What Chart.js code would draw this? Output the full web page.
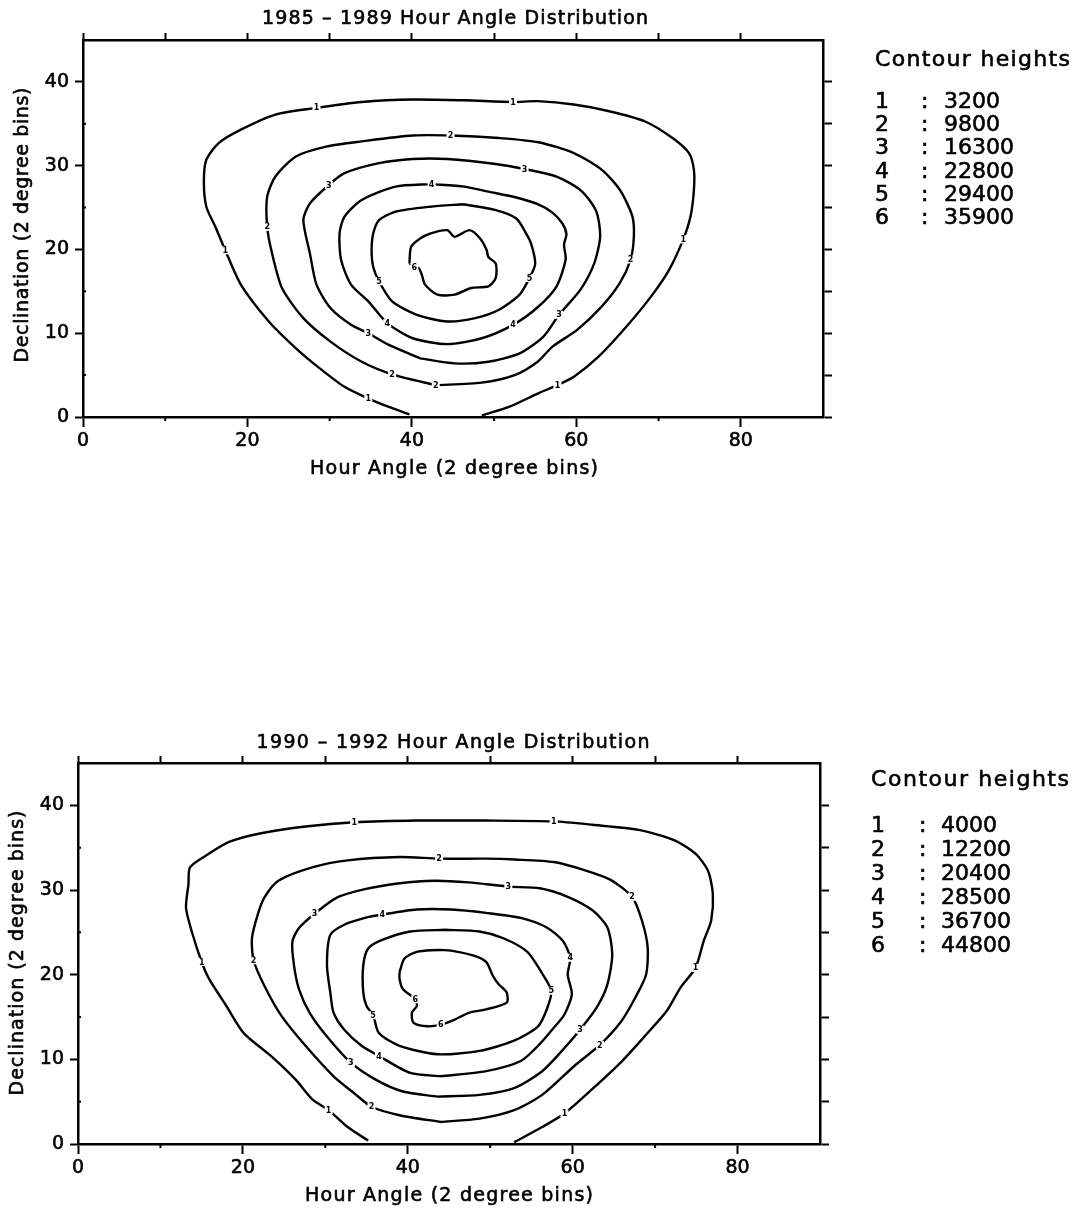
<!DOCTYPE html>
<html>
<head>
<meta charset="utf-8">
<style>
  html, body { margin: 0; padding: 0; background: #fff; }
  body { width: 1089px; height: 1211px; position: relative; overflow: hidden; }
  canvas { position: absolute; left: 0; }
  #chartTop { top: 0; }
  #chartBottom { top: 725px; }
</style>
<script src="https://cdn.jsdelivr.net/npm/chart.js@4.4.1/dist/chart.umd.min.js"></script>
</head>
<body>
<canvas id="chartTop" width="1089" height="480"></canvas>
<canvas id="chartBottom" width="1089" height="486"></canvas>
<script>
// axis ticks (labelled ones and the small unlabelled ones)
const xTicks = [0, 20, 40, 60, 80];
const yTicks = [0, 10, 20, 30, 40];
const xMinor = [10, 30, 50, 70];
const yMinor = [5, 15, 25, 35];

const levels = ['1', '2', '3', '4', '5', '6'];
const heights8589 = [3200, 9800, 16300, 22800, 29400, 35900];
const heights9092 = [4000, 12200, 20400, 28500, 36700, 44800];

// 1985 - 1989 contours, [hour angle bin, declination bin]
const c1_8589 = [[48.5,0.2],[51.8,1.2],[55.3,2.8],[57.7,3.8],[59.7,4.8],[62.7,7.2],[66.1,10.8],[69.1,14.4],[71.3,17.6],[73.0,21.2],[73.9,24.0],[74.3,27.1],[74.3,29.5],[73.7,31.5],[71.7,33.3],[68.3,35.3],[64.0,36.5],[59.7,37.3],[55.3,37.7],[52.3,37.6],[46.4,37.8],[40.1,37.9],[33.9,37.6],[28.4,36.9],[23.4,36.1],[19.2,34.3],[16.5,32.7],[15.0,30.7],[14.7,28.1],[15.0,25.1],[16.1,22.7],[17.3,19.9],[19.2,15.8],[22.6,11.4],[25.9,8.2],[28.8,5.8],[31.8,3.6],[34.7,2.2],[37.2,1.2],[39.7,0.3]];
const c2_8589 = [[42.9,3.8],[48.5,4.1],[52.5,5.0],[55.3,6.6],[57.1,8.4],[60.1,10.4],[63.1,13.2],[65.3,16.0],[66.6,18.8],[67.0,21.6],[66.8,24.0],[65.3,27.1],[63.1,29.5],[59.7,31.5],[55.4,32.8],[50.6,33.3],[44.7,33.6],[40.1,33.6],[33.9,32.9],[29.7,32.3],[25.9,31.1],[23.4,28.7],[22.4,26.3],[22.4,22.7],[23.0,19.5],[24.2,15.4],[26.8,11.8],[30.1,9.0],[33.9,6.6],[37.6,5.1],[42.9,3.8]];
const c3_8589 = [[41.0,7.0],[45.2,6.4],[49.3,6.6],[53.1,7.6],[56.0,9.6],[57.9,12.2],[60.5,15.2],[62.2,18.4],[62.9,21.6],[62.4,24.6],[60.6,27.0],[57.6,28.7],[53.7,29.6],[50.2,30.2],[44.3,30.8],[40.1,30.8],[36.0,30.3],[31.8,29.1],[29.9,27.7],[27.6,25.5],[26.8,23.5],[27.6,19.5],[28.4,15.8],[30.1,13.0],[32.6,11.0],[34.7,10.0],[37.2,8.6],[41.0,7.0]];
const c4_8589 = [[42.4,27.8],[38.0,27.5],[33.9,25.9],[31.8,23.9],[31.2,21.9],[31.4,18.7],[32.6,15.8],[34.7,13.8],[37.0,11.2],[40.1,9.4],[44.3,8.7],[48.5,9.4],[52.3,11.0],[55.3,13.1],[57.6,15.6],[58.7,18.8],[58.5,20.6],[58.8,21.8],[58.3,23.1],[57.1,24.4],[55.3,25.4],[52.7,26.2],[49.3,26.9],[46.4,27.5],[42.4,27.8]];
const c5_8589 = [[46.2,25.4],[42.2,25.1],[38.0,24.5],[36.0,23.5],[35.3,21.9],[35.1,19.9],[35.3,17.9],[36.0,16.2],[37.6,13.8],[40.6,12.2],[44.3,11.4],[47.7,11.8],[50.6,12.8],[53.1,14.6],[54.3,16.6],[55.0,18.3],[54.5,20.7],[53.9,21.9],[52.7,23.7],[50.2,24.7],[46.2,25.4]];
const c6_8589 = [[39.7,18.3],[39.9,20.3],[41.0,21.3],[42.2,21.9],[44.3,22.3],[45.2,21.5],[47.0,22.3],[48.3,21.3],[49.1,19.9],[49.3,19.1],[50.2,18.3],[50.2,16.6],[49.3,15.6],[47.2,15.4],[45.2,14.6],[43.1,14.6],[41.6,15.8],[41.2,17.0],[40.8,17.8],[39.7,18.3]];

// where the level numbers sit on the 1985 - 1989 lines
const tags8589 = [[28.4,36.9,'1'],[52.3,37.6,'1'],[17.3,19.9,'1'],[34.7,2.2,'1'],[73.0,21.2,'1'],[57.7,3.8,'1'],
  [44.7,33.6,'2'],[22.4,22.7,'2'],[37.6,5.1,'2'],[42.9,3.8,'2'],[66.6,18.8,'2'],
  [29.9,27.7,'3'],[53.7,29.6,'3'],[34.7,10.0,'3'],[57.9,12.2,'3'],
  [42.4,27.8,'4'],[37.0,11.2,'4'],[52.3,11.0,'4'],
  [36.0,16.2,'5'],[54.3,16.6,'5'],
  [40.3,17.9,'6']];

// 1990 - 1992 contours
const c1_9092 = [[52.9,0.2],[56.3,2.0],[59.0,3.6],[62.4,6.5],[65.9,9.7],[68.9,12.9],[71.4,15.7],[73.1,18.5],[74.9,20.8],[75.9,24.0],[76.8,26.4],[77.0,29.6],[76.4,32.3],[74.9,34.3],[72.3,35.9],[68.0,37.1],[62.4,37.7],[57.7,38.1],[49.5,38.2],[41.1,38.2],[33.5,38.0],[27.6,37.5],[22.2,36.7],[18.4,35.7],[15.9,34.3],[13.6,32.7],[13.4,30.7],[13.1,27.9],[13.8,25.1],[15.0,21.5],[15.9,19.5],[18.0,16.3],[20.1,13.1],[23.4,10.4],[26.4,7.6],[28.5,5.2],[30.4,4.0],[32.7,2.0],[35.2,0.4]];
const c2_9092 = [[44.0,2.6],[48.7,3.0],[52.9,4.0],[56.3,5.8],[60.3,9.3],[63.3,11.7],[65.9,14.5],[67.6,17.3],[68.9,20.0],[69.1,23.2],[68.4,26.4],[67.2,29.2],[64.6,31.2],[61.6,32.3],[57.7,33.3],[53.0,33.6],[49.5,33.7],[43.8,33.7],[39.0,33.9],[32.7,33.5],[28.5,32.7],[24.3,31.1],[22.6,29.1],[21.8,27.1],[21.1,24.3],[21.3,21.7],[22.6,18.7],[24.7,15.1],[27.6,11.6],[31.0,8.0],[33.5,6.0],[35.6,4.4],[39.0,3.4],[44.0,2.6]];
const c3_9092 = [[43.6,5.6],[48.7,5.8],[52.9,6.6],[56.3,8.6],[58.6,10.9],[60.9,13.5],[62.9,16.1],[64.2,18.8],[64.8,22.4],[64.2,25.6],[62.4,27.6],[59.4,29.2],[56.0,30.2],[52.2,30.4],[47.4,30.9],[43.2,31.1],[39.0,30.8],[34.8,30.1],[31.4,29.1],[28.7,27.2],[26.8,25.5],[26.0,23.9],[26.2,21.1],[26.8,18.3],[28.1,15.5],[30.2,12.7],[33.1,9.6],[36.1,7.6],[39.4,6.2],[43.6,5.6]];
const c4_9092 = [[44.0,8.0],[49.5,8.6],[53.7,9.8],[56.0,11.8],[57.6,13.6],[59.0,15.3],[59.9,17.7],[59.4,20.0],[59.7,22.0],[58.8,24.0],[56.8,25.6],[53.7,26.7],[49.5,27.3],[45.3,27.7],[41.1,27.7],[36.9,27.1],[34.8,26.7],[32.3,25.9],[30.6,24.7],[30.2,21.1],[30.6,17.9],[31.0,15.5],[32.3,13.5],[34.4,11.6],[36.5,10.4],[40.3,8.4],[44.0,8.0]];
const c5_9092 = [[44.5,25.3],[40.3,25.1],[36.9,24.1],[35.2,23.1],[34.6,21.1],[34.6,17.9],[35.0,16.3],[35.8,15.2],[36.5,13.1],[39.0,11.6],[43.6,10.6],[48.7,11.0],[52.9,12.2],[55.8,13.9],[56.9,16.0],[57.4,18.1],[56.2,20.3],[54.5,22.7],[51.6,24.3],[48.7,25.1],[44.5,25.3]];
const c6_9092 = [[39.0,20.3],[39.6,21.9],[41.1,22.7],[44.5,22.9],[47.8,22.3],[49.5,21.5],[50.3,19.9],[51.0,18.9],[52.0,17.9],[52.0,16.7],[49.5,15.9],[47.4,15.5],[45.7,14.7],[44.0,14.1],[42.4,13.9],[40.7,14.3],[40.5,15.5],[41.1,16.3],[40.9,17.1],[39.4,18.3],[39.0,19.5],[39.0,20.3]];

const tags9092 = [[33.5,38.0,'1'],[57.7,38.1,'1'],[15.0,21.5,'1'],[30.4,4.0,'1'],[74.9,20.8,'1'],[59.0,3.6,'1'],
  [43.8,33.7,'2'],[21.3,21.7,'2'],[35.6,4.4,'2'],[67.2,29.2,'2'],[63.3,11.7,'2'],
  [28.7,27.2,'3'],[52.2,30.4,'3'],[33.1,9.6,'3'],[60.9,13.5,'3'],
  [36.9,27.1,'4'],[36.5,10.4,'4'],[59.7,22.0,'4'],
  [35.8,15.2,'5'],[57.4,18.1,'5'],
  [40.9,17.1,'6'],[44.0,14.1,'6']];

Chart.defaults.font.family = 'DejaVu Sans';
Chart.defaults.color = '#000';

const FONT = '"DejaVu Sans", sans-serif';
const clear = 'rgba(0,0,0,0)';

// text with letter spacing stretched to a given width, lightly stroked like the scan
function spaced(ctx, text, x, y, width, size, align) {
  ctx.save();
  ctx.font = size + 'px ' + FONT;
  ctx.letterSpacing = '0px';
  const w0 = ctx.measureText(text).width;
  if (width) {
    ctx.letterSpacing = ((width - w0) / (text.length - 1)) + 'px';
  }
  ctx.textAlign = 'left';
  ctx.textBaseline = 'middle';
  const w = width || w0;
  const left = align === 'center' ? x - w / 2 : x;
  ctx.fillStyle = '#000';
  ctx.strokeStyle = '#000';
  ctx.lineWidth = 0.6;
  ctx.fillText(text, left, y);
  ctx.strokeText(text, left, y);
  ctx.restore();
}

const decor = {
  id: 'decor',
  afterDatasetsDraw(chart, args, o) {
    const { ctx } = chart;
    const { x, y } = chart.scales;
    ctx.save();
    ctx.font = 'bold 8px ' + FONT;
    ctx.textAlign = 'center';
    ctx.textBaseline = 'middle';
    o.tags.forEach(([vx, vy, t]) => {
      const px = x.getPixelForValue(vx), py = y.getPixelForValue(vy);
      ctx.fillStyle = '#fff';
      ctx.fillRect(px - 4, py - 4, 8, 8);
      ctx.fillStyle = '#000';
      ctx.fillText(t, px, py + 0.5);
    });
    ctx.restore();
  },
  afterDraw(chart, args, o) {
    const { ctx, chartArea: a } = chart;
    const { x, y } = chart.scales;
    ctx.save();
    ctx.strokeStyle = '#000';
    ctx.lineWidth = 2;
    ctx.beginPath();
    xMinor.forEach(v => {
      const px = x.getPixelForValue(v);
      ctx.moveTo(px, a.bottom); ctx.lineTo(px, a.bottom + 4);
    });
    yMinor.forEach(v => {
      const py = y.getPixelForValue(v);
      ctx.moveTo(a.left, py); ctx.lineTo(a.left + 3, py);
    });
    ctx.stroke();
    ctx.restore();

    spaced(ctx, o.title, o.titleX, o.titleY, o.titleW, 19, 'center');
    spaced(ctx, 'Hour Angle (2 degree bins)', o.xTitleX, o.xTitleY, 288, 19, 'center');
    ctx.save();
    ctx.translate(o.yTitleX, o.yTitleY);
    ctx.rotate(-Math.PI / 2);
    spaced(ctx, 'Declination (2 degree bins)', 0, 0, o.yTitleW, 19, 'center');
    ctx.restore();

    spaced(ctx, 'Contour heights', o.legX, o.legY, o.legW, 22);
    o.heights.forEach((h, i) => {
      const ry = o.rowY + i * o.rowStep;
      spaced(ctx, levels[i], o.legX, ry, 0, 22);
      spaced(ctx, ':', o.colonX, ry, 0, 22);
      spaced(ctx, String(h), o.valX, ry, 0, 22);
    });
  }
};

function makeChart(id, contours, tags, heights, box, text) {
  const canvas = document.getElementById(id);
  const W = canvas.width, H = canvas.height;
  const lineSet = pts => ({
    data: pts.map(([vx, vy]) => ({ x: vx, y: vy })),
    showLine: true,
    borderColor: '#000',
    borderWidth: 2.4,
    pointRadius: 0,
    tension: 0.25,
    fill: false
  });
  const tickFont = { family: 'DejaVu Sans', size: 19 };
  const border = { display: true, color: '#000', width: 2.5 };
  return new Chart(canvas, {
    type: 'scatter',
    data: { datasets: contours.map(lineSet) },
    options: {
      responsive: false,
      animation: false,
      events: [],
      layout: { padding: 0 },
      plugins: {
        legend: { display: false },
        tooltip: { enabled: false },
        decor: Object.assign({ tags, heights }, text)
      },
      scales: {
        x: {
          type: 'linear', position: 'bottom', min: 0, max: 90,
          ticks: { stepSize: 10, autoSkip: false, maxRotation: 0, padding: 3, font: tickFont,
            textStrokeColor: '#000', textStrokeWidth: 0.6,
            callback: v => xTicks.includes(v) ? String(v) : '' },
          grid: { drawOnChartArea: false, tickLength: 10, tickWidth: 2,
            tickColor: c => xTicks.includes(c.tick && c.tick.value) ? '#000' : clear },
          border,
          afterFit: s => { s.height = H - box.bottom; }
        },
        xTop: {
          type: 'linear', position: 'top', min: 0, max: 90,
          ticks: { stepSize: 10, display: false },
          grid: { drawOnChartArea: false, tickLength: 7, tickWidth: 2,
            tickColor: c => (c.tick && c.tick.value <= 80) ? '#000' : clear },
          border,
          afterFit: s => { s.height = box.top; }
        },
        y: {
          type: 'linear', position: 'left', min: 0, max: 45,
          ticks: { stepSize: 5, autoSkip: false, padding: 6, font: tickFont,
            textStrokeColor: '#000', textStrokeWidth: 0.6,
            callback: v => yTicks.includes(v) ? String(v) : '' },
          grid: { drawOnChartArea: false, tickLength: 8, tickWidth: 2,
            tickColor: c => yTicks.includes(c.tick && c.tick.value) ? '#000' : clear },
          border,
          afterFit: s => { s.width = box.left; }
        },
        yRight: {
          type: 'linear', position: 'right', min: 0, max: 45,
          ticks: { stepSize: 5, display: false },
          grid: { drawOnChartArea: false, tickLength: 9, tickWidth: 2,
            tickColor: c => (c.tick && c.tick.value <= 40) ? '#000' : clear },
          border,
          afterFit: s => { s.width = W - box.right; }
        }
      }
    },
    plugins: [decor]
  });
}

makeChart('chartTop',
  [c1_8589, c2_8589, c3_8589, c4_8589, c5_8589, c6_8589], tags8589, heights8589,
  { left: 83, right: 823, top: 40, bottom: 417 },
  { title: '1985 \u2013 1989 Hour Angle Distribution', titleX: 455, titleY: 19, titleW: 386,
    xTitleX: 454, xTitleY: 469, yTitleX: 23, yTitleY: 225, yTitleW: 275,
    legX: 875, legY: 60, legW: 195, rowY: 102, rowStep: 23.3, colonX: 921, valX: 944 });

makeChart('chartBottom',
  [c1_9092, c2_9092, c3_9092, c4_9092, c5_9092, c6_9092], tags9092, heights9092,
  { left: 78, right: 820, top: 38, bottom: 419 },
  { title: '1990 \u2013 1992 Hour Angle Distribution', titleX: 453, titleY: 18, titleW: 393,
    xTitleX: 449, xTitleY: 471, yTitleX: 18, yTitleY: 228, yTitleW: 285,
    legX: 871, legY: 55, legW: 198, rowY: 101, rowStep: 24, colonX: 919, valX: 941 });
</script>
</body>
</html>
